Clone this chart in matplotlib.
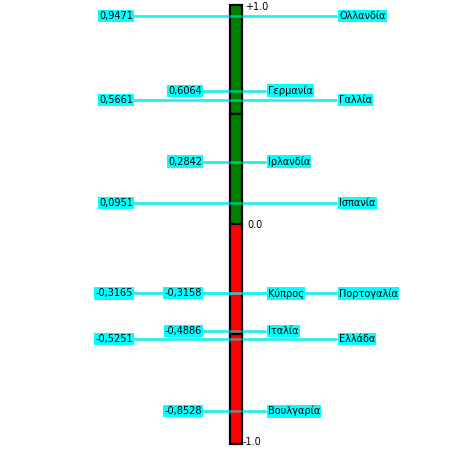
import matplotlib
matplotlib.use("Agg")
import matplotlib.pyplot as plt

countries = ["Ολλανδία", "Γερμανία", "Γαλλία", "Ιρλανδία", "Ισπανία",
             "Κύπρος", "Πορτογαλία", "Ιταλία", "Ελλάδα", "Βουλγαρία"]
values = [0.9471, 0.6064, 0.5661, 0.2842, 0.0951,
          -0.3158, -0.3165, -0.4886, -0.5251, -0.8528]
segment_bounds = [1.0, 0.5, 0.0, -0.5, -1.0]
tick_values = [1.0, 0.0, -1.0]
tick_labels = ["+1.0", "0.0", "-1.0"]

# layout (pixels)
W, H = 471, 450
zero_px, scale_px = 224.0, 219.5
bar_x, bar_w = 235.5, 12
long_l, long_r = 133, 337
short_l, short_r = 202, 266

fig = plt.figure(figsize=(W / 100, H / 100), dpi=100)
ax = fig.add_axes([0, 0, 1, 1])
ax.set_xlim(0, W)
ax.set_ylim(-(H - zero_px) / scale_px, zero_px / scale_px)
ax.axis("off")

# bar segments
for top, bot in zip(segment_bounds[:-1], segment_bounds[1:]):
    col = "#008000" if bot >= 0 else "#FF0000"
    ax.bar(bar_x, top - bot, bottom=bot, width=bar_w, color=col,
           edgecolor="black", linewidth=1.6, zorder=2)

line_col = "#38E4E4"
bbox = dict(boxstyle="square,pad=0.12", fc="#00FFFF", ec="none")
order = sorted(range(len(values)), key=lambda i: -values[i])
for rank, i in enumerate(order):
    v = values[i]
    if rank % 2 == 0:
        xl, xr = long_l, long_r
    else:
        xl, xr = short_l, short_r
    ax.plot([xl, xr], [v, v], color=line_col, lw=1.8, zorder=1,
            solid_capstyle="butt")
    ax.plot([xl, xr], [v, v], color="#00FFFF", lw=1.8, alpha=0.5, zorder=3,
            solid_capstyle="butt")
    ax.text(xl, v, f"{v:.4f}".replace(".", ","), ha="right", va="center",
            fontsize=7, color="black", bbox=bbox, zorder=4)
    ax.text(xr + 2, v, countries[i], ha="left", va="center",
            fontsize=7, color="black", bbox=bbox, zorder=4)

tick_dx = [245, 247, 243]
tick_dy = [-0.012, -0.005, 0.006]
for tv, tl, dx, dy in zip(tick_values, tick_labels, tick_dx, tick_dy):
    ax.text(dx, tv + dy, tl, ha="left", va="center", fontsize=7, color="black",
            zorder=4)

fig.savefig("out.png", dpi=100, facecolor="white")
